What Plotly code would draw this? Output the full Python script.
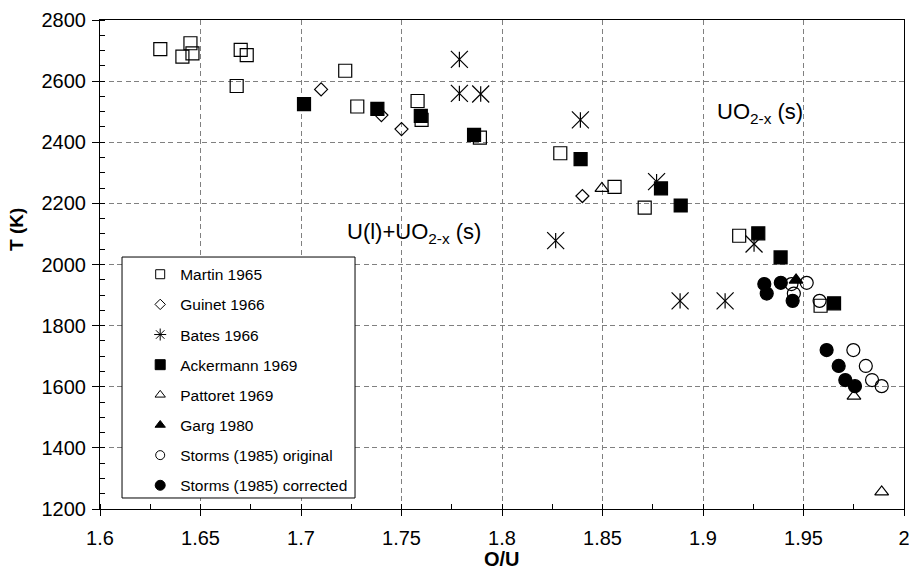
import plotly.graph_objects as go

# ---- data: O/U ratio and temperature (K) for each source ----
martin_ou = [1.630, 1.641, 1.645, 1.646, 1.668, 1.670, 1.673, 1.722, 1.728,
             1.758, 1.760, 1.789, 1.829, 1.856, 1.871, 1.918, 1.9585]
martin_t = [2705, 2680, 2724, 2691, 2584, 2702, 2685, 2634, 2517,
            2535, 2473, 2415, 2364, 2254, 2186, 2094, 1865]

guinet_ou = [1.710, 1.740, 1.750, 1.840]
guinet_t = [2573, 2489, 2443, 2224]

bates_ou = [1.7788, 1.7788, 1.7894, 1.8267, 1.839, 1.8769, 1.8886, 1.911, 1.9254]
bates_t = [2671, 2560, 2558, 2078, 2473, 2271, 1881, 1881, 2067]

ackermann_ou = [1.7015, 1.738, 1.7596, 1.7861, 1.8391, 1.8791, 1.8889, 1.9275, 1.9386, 1.9652]
ackermann_t = [2525, 2509, 2486, 2424, 2345, 2249, 2193, 2102, 2023, 1873]

pattoret_ou = [1.8497, 1.9751, 1.9889]
pattoret_t = [2249, 1569, 1256]

garg_ou = [1.9463]
garg_t = [1949]

storms_orig_ou = [1.944, 1.9452, 1.9516, 1.958, 1.9748, 1.981, 1.9841, 1.9889]
storms_orig_t = [1936, 1905, 1940, 1881, 1720, 1668, 1622, 1602]

storms_corr_ou = [1.9305, 1.9317, 1.9387, 1.9446, 1.9615, 1.9675, 1.9708, 1.9756]
storms_corr_t = [1936, 1905, 1940, 1881, 1720, 1668, 1622, 1602]

x_tickvals = [1.6, 1.65, 1.7, 1.75, 1.8, 1.85, 1.9, 1.95, 2.0]
x_ticktext = ["1.6", "1.65", "1.7", "1.75", "1.8", "1.85", "1.9", "1.95", "2"]
y_tickvals = [1200, 1400, 1600, 1800, 2000, 2200, 2400, 2600, 2800]
y_ticktext = ["1200", "1400", "1600", "1800", "2000", "2200", "2400", "2600", "2800"]

FONT = "Liberation Sans, Arial, sans-serif"
BLACK = "black"
LW = 1.2

fig = go.Figure()


def add_series(name, xs, ys, symbol, size, legend_symbol, legend_size):
    # plotted points (no legend entry)
    fig.add_trace(go.Scatter(
        x=xs, y=ys, mode="markers", name=name, showlegend=False,
        marker=dict(symbol=symbol, size=size, color=BLACK,
                    line=dict(color=BLACK, width=LW)),
        hoverinfo="x+y+name"))
    # legend entry with small symbol
    fig.add_trace(go.Scatter(
        x=[None], y=[None], mode="markers", name=name, legendgroup=name,
        marker=dict(symbol=legend_symbol, size=legend_size, color=BLACK,
                    line=dict(color=BLACK, width=1))))


add_series("Martin 1965", martin_ou, martin_t, "square-open", 13, "square-open", 9)
add_series("Guinet 1966", guinet_ou, guinet_t, "diamond-open", 10, "diamond-open", 8)

# Bates: six-armed star built from an X and a vertical stroke
fig.add_trace(go.Scatter(
    x=bates_ou, y=bates_t, mode="markers", showlegend=False, name="Bates 1966",
    marker=dict(symbol="x-thin-open", size=17, color=BLACK,
                line=dict(color=BLACK, width=LW))))
fig.add_trace(go.Scatter(
    x=bates_ou, y=bates_t, mode="markers", showlegend=False, name="Bates 1966",
    marker=dict(symbol="line-ns-open", size=11, color=BLACK,
                line=dict(color=BLACK, width=LW))))
fig.add_trace(go.Scatter(
    x=[None], y=[None], mode="markers", name="Bates 1966", legendgroup="Bates 1966",
    marker=dict(symbol="asterisk-open", size=10, color=BLACK,
                line=dict(color=BLACK, width=1))))

add_series("Ackermann 1969", ackermann_ou, ackermann_t, "square", 13, "square", 10)
add_series("Pattoret 1969", pattoret_ou, pattoret_t, "triangle-up-open", 12, "triangle-up-open", 9)
add_series("Garg 1980", garg_ou, garg_t, "triangle-up", 12, "triangle-up", 9)
add_series("Storms (1985) original", storms_orig_ou, storms_orig_t, "circle-open", 13, "circle-open", 9)
add_series("Storms (1985) corrected", storms_corr_ou, storms_corr_t, "circle", 13, "circle", 10)

grid = dict(showgrid=True, gridcolor="#808080", gridwidth=1, griddash="5px,3.5px")

fig.update_xaxes(
    range=[1.6, 2.0], tickvals=x_tickvals, ticktext=x_ticktext,
    ticks="outside", ticklen=6, tickwidth=1, tickcolor=BLACK,
    ticklabelstandoff=5, ticklabeloverflow="allow", automargin=False,
    showline=True, linecolor=BLACK, linewidth=1, mirror=True,
    zeroline=False, tickfont=dict(family=FONT, size=20, color=BLACK),
    minor=dict(dtick=0.025, ticks="inside", ticklen=5, tickcolor=BLACK, showgrid=False),
    **grid)
fig.update_yaxes(
    range=[1200, 2800], tickvals=y_tickvals, ticktext=y_ticktext,
    ticks="outside", ticklen=7, tickwidth=1, tickcolor=BLACK,
    ticklabelstandoff=2, ticklabeloverflow="allow", automargin=False,
    showline=True, linecolor=BLACK, linewidth=1, mirror=True,
    zeroline=False, tickfont=dict(family=FONT, size=20, color=BLACK),
    minor=dict(dtick=50, ticks="inside", ticklen=5, tickcolor=BLACK, showgrid=False),
    **grid)

# legend frame (white box covering the grid)
fig.add_shape(type="rect", xref="paper", yref="paper",
              x0=0.0274, x1=0.3172, y0=0.0225, y1=0.5153,
              fillcolor="white", line=dict(color=BLACK, width=1), layer="above")

fig.update_layout(
    width=909, height=571,
    margin=dict(l=100, r=5, t=20, b=62),
    paper_bgcolor="white", plot_bgcolor="white",
    font=dict(family=FONT, color=BLACK),
    legend=dict(x=0.05, y=0.514, xanchor="left", yanchor="top",
                bgcolor="rgba(0,0,0,0)", borderwidth=0,
                font=dict(family=FONT, size=15.5, color=BLACK),
                traceorder="grouped", tracegroupgap=7),
    annotations=[
        dict(text="UO<sub>2-x</sub> (s)", x=1.906, y=2496, xref="x", yref="y",
             xanchor="left", yanchor="middle", showarrow=False,
             font=dict(family=FONT, size=22, color=BLACK)),
        dict(text="U(l)+UO<sub>2-x</sub> (s)", x=1.7219, y=2103, xref="x", yref="y",
             xanchor="left", yanchor="middle", showarrow=False,
             font=dict(family=FONT, size=22, color=BLACK)),
        dict(text="<b>O/U</b>", x=0.5, y=-0.103, xref="paper", yref="paper",
             xanchor="center", yanchor="middle", showarrow=False,
             font=dict(family=FONT, size=20, color=BLACK)),
        dict(text="<b>T (K)</b>", x=-0.103, y=0.571, xref="paper", yref="paper",
             xanchor="center", yanchor="middle", textangle=-90, showarrow=False,
             font=dict(family=FONT, size=19, color=BLACK)),
    ],
)

fig.write_html("out.html")
